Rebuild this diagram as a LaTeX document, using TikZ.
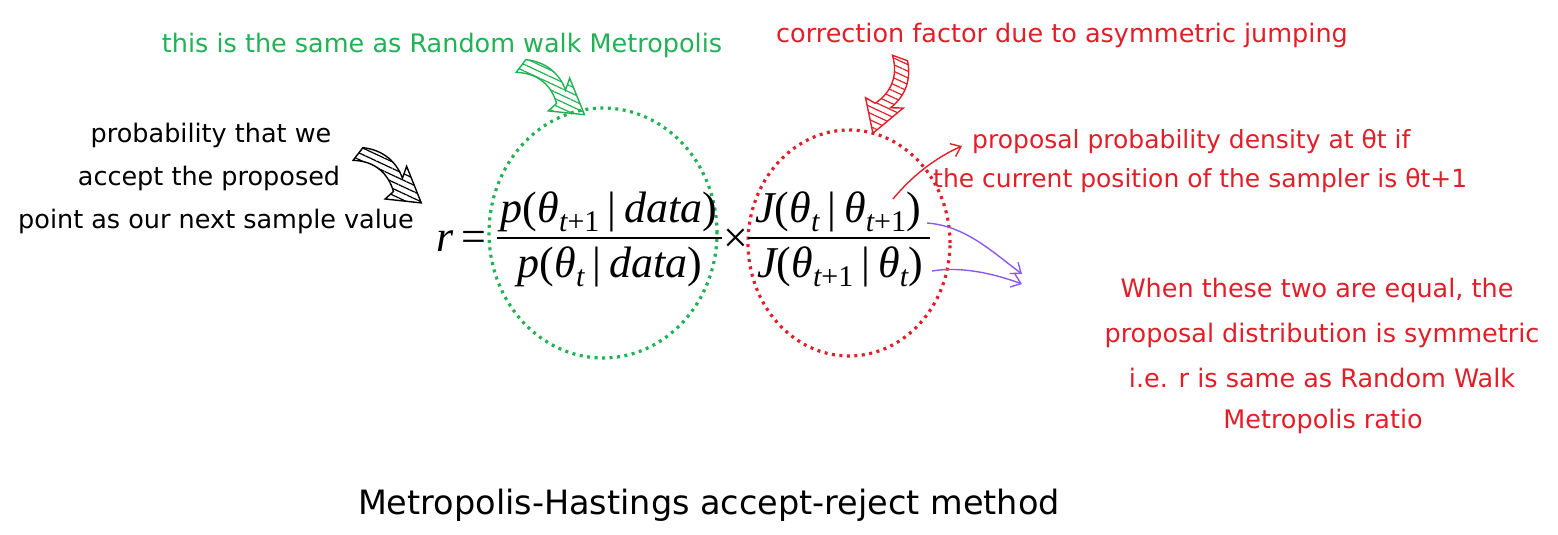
\documentclass[tikz,border=0pt]{standalone}
\usepackage{fontspec}
\setmainfont{DejaVu Sans}
\newfontfamily\tms{Liberation Serif}
\usetikzlibrary{arrows.meta,patterns.meta}
\definecolor{hgreen}{RGB}{34,177,84}
\definecolor{hred}{RGB}{226,30,40}
\definecolor{hpurple}{RGB}{140,90,235}
\newcommand\up[1]{{\upshape #1}}
\newcommand\sbx[1]{\raisebox{-0.22em}{\fontsize{30}{30}\selectfont #1}}
\newcommand\vb{\hspace{8pt}\up{|}\hspace{8pt}}
\begin{document}
\begin{tikzpicture}[x=1pt,y=1pt,
  hand/.style={inner sep=0pt, anchor=base, font=\fontsize{25.5}{30}\selectfont},
  title/.style={inner sep=0pt, anchor=base, font=\fontsize{33.5}{38}\selectfont},
  mth/.style={inner sep=0pt, anchor=base, font=\tms\itshape\fontsize{44}{44}\selectfont},
  ring/.style={line width=3.2pt, dash pattern=on 3pt off 4.5pt},
  bar/.style={line width=2.6pt},
  conn/.style={line width=1.4pt, -{Straight Barb[length=9pt,width=14pt]}},
  harrow/.pic={
    \path[pic actions] (0,8) .. controls (18,19) and (36,17) .. (50,8) -- (46,20) -- (80,0)
      -- (49,-19) -- (51,-8) .. controls (36,3) and (18,5) .. (0,-8) -- cycle;
  },
  hatch/.style={draw=#1, line width=1.4pt, pattern={Lines[angle=-25,distance=6pt,line width=1.2pt]}, pattern color=#1}
]
\useasboundingbox (0,0) rectangle (1558,-535);

% dotted rings
\draw[ring, hgreen] (603,-233) ellipse [x radius=114pt, y radius=125pt];
\draw[ring, hred] (849,-243) ellipse [x radius=101pt, y radius=113pt];

% formula
\node[mth, anchor=base east] (req) at (487,-251) {r\hspace{8pt}\up{=}};
\node[mth] (n1) at (609,-222) {p\up{(}θ\sbx{t\up{+1}}\vb data\up{)}};
\node[mth] (d1) at (610,-277) {p\up{(}θ\sbx{t}\vb data\up{)}};
\draw[bar] (497,-238) -- (722,-238);
\node[mth, anchor=center] (tm) at (736,-241) {\up{×}};
\node[mth] (n2) at (838,-222) {J\up{(}θ\sbx{t}\vb θ\sbx{t\up{+1}}\up{)}};
\node[mth] (d2) at (840,-277) {J\up{(}θ\sbx{t\up{+1}}\vb θ\sbx{t}\up{)}};
\draw[bar] (748,-238) -- (930,-238);

% left black note
\node[hand] (b1) at (211,-142) {probability that we};
\node[hand] (b2) at (209,-185) {accept the proposed};
\node[hand] (b3) at (216,-228) {point as our next sample value};
\pic[hatch=black, rotate=-37.7] at (358,-154) {harrow};

% green note
\node[hand, text=hgreen] (g1) at (442,-53) {this is the same as Random walk Metropolis};
\pic[hatch=hgreen, rotate=-37.5] at (521,-66) {harrow};

% red top note
\node[hand, text=hred] (c1) at (1062,-43) {correction factor due to asymmetric jumping};
\pic[hatch=hred, rotate=-109.8] at (900,-58) {harrow};

% red proposal note
\node[hand, text=hred, anchor=base west, font=\fontsize{25}{30}\selectfont] (p1) at (972,-148) {proposal probability density at θt if};
\node[hand, text=hred, anchor=base west, font=\fontsize{25}{30}\selectfont] (p2) at (933,-187) {the current position of the sampler is θt+1};
\coordinate (rs) at (893,-199);
\coordinate (re) at (962,-146);
\draw[conn, hred] (rs) .. controls (912,-176) and (935,-158) .. (re);

% purple arrows
\coordinate (ps1) at (927,-223);
\coordinate (pe1) at (1022,-274);
\coordinate (ps2) at (932,-271);
\coordinate (pe2) at (1022,-284);
\draw[conn, hpurple] (ps1) .. controls (965,-226) and (990,-250) .. (pe1);
\draw[conn, hpurple] (ps2) .. controls (962,-266) and (995,-274) .. (pe2);

% red right note
\node[hand, text=hred] (w1) at (1317,-297) {When these two are equal, the};
\node[hand, text=hred] (w2) at (1322,-342) {proposal distribution is symmetric};
\node[hand, text=hred] (w3) at (1322,-387) {i.e. r is same as Random Walk};
\node[hand, text=hred] (w4) at (1323,-428) {Metropolis ratio};

% title
\node[title] (t1) at (709,-514) {Metropolis-Hastings accept-reject method};
\end{tikzpicture}
\end{document}
